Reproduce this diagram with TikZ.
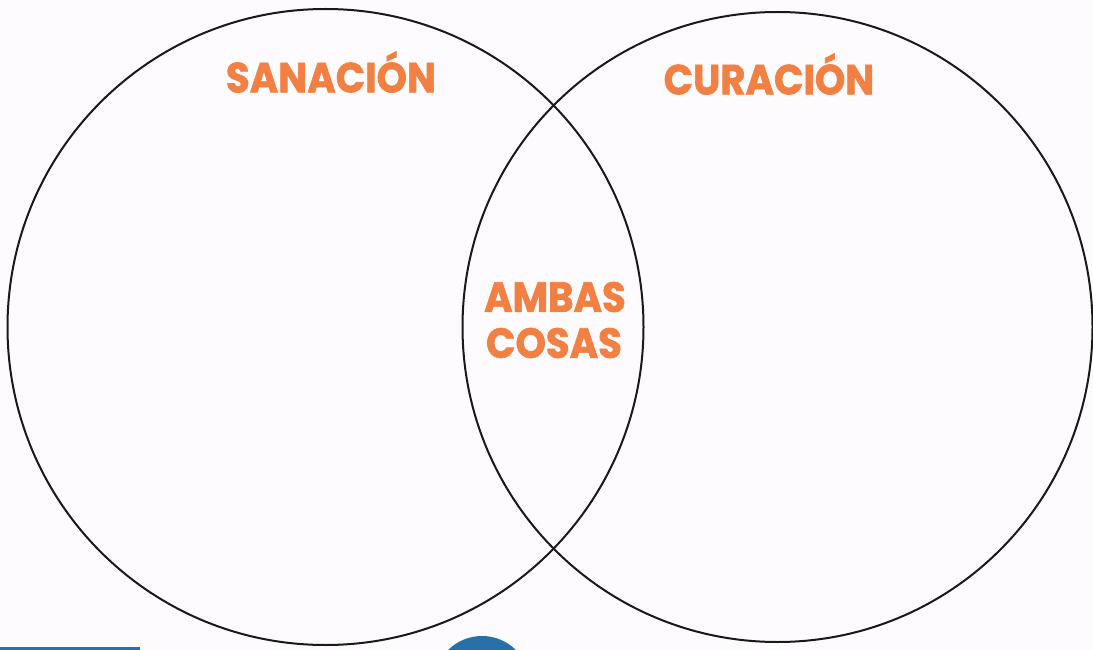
\documentclass[tikz,border=0pt]{standalone}
\usepackage{fontspec}
\setmainfont{Poppins}
\usetikzlibrary{positioning}
\definecolor{naranja}{RGB}{242,128,66}
\definecolor{azul}{RGB}{40,112,168}
\definecolor{papel}{RGB}{253,251,253}

\begin{document}
\begin{tikzpicture}[x=1pt,y=-1pt,
      conjunto/.style={circle, draw=black!90, line width=2pt, inner sep=0pt},
      titulo/.style={text=naranja, font=\fontsize{42}{42}\selectfont\bfseries\addfontfeatures{FakeBold=1.6}, inner sep=0pt, xscale=0.92},
      bloque/.style={fill=azul, draw=none}]

\fill[papel] (0,0) rectangle (1093,650);
\useasboundingbox (0,0) rectangle (1093,650);

% trozos azules del borde de la pagina
\begin{scope}
\clip (0,0) rectangle (1093,650);
\fill[bloque] (0,647) rectangle (140,654);
\node[bloque, circle, minimum size=96pt] (sello) at (482,684) {};
\end{scope}

\node[conjunto, minimum size=636pt] (sanacion) at (325.5,327) {};
\node[conjunto, minimum size=630pt] (curacion) at (777.5,327) {};

\node[titulo] (t1) at (331,72) {SANACIÓN};
\node[titulo] (t2) at (769,74) {CURACIÓN};
\node[titulo] (t3) at (555,297) {AMBAS};
\node[titulo] (t4) at (554,343) {COSAS};

\end{tikzpicture}
\end{document}
